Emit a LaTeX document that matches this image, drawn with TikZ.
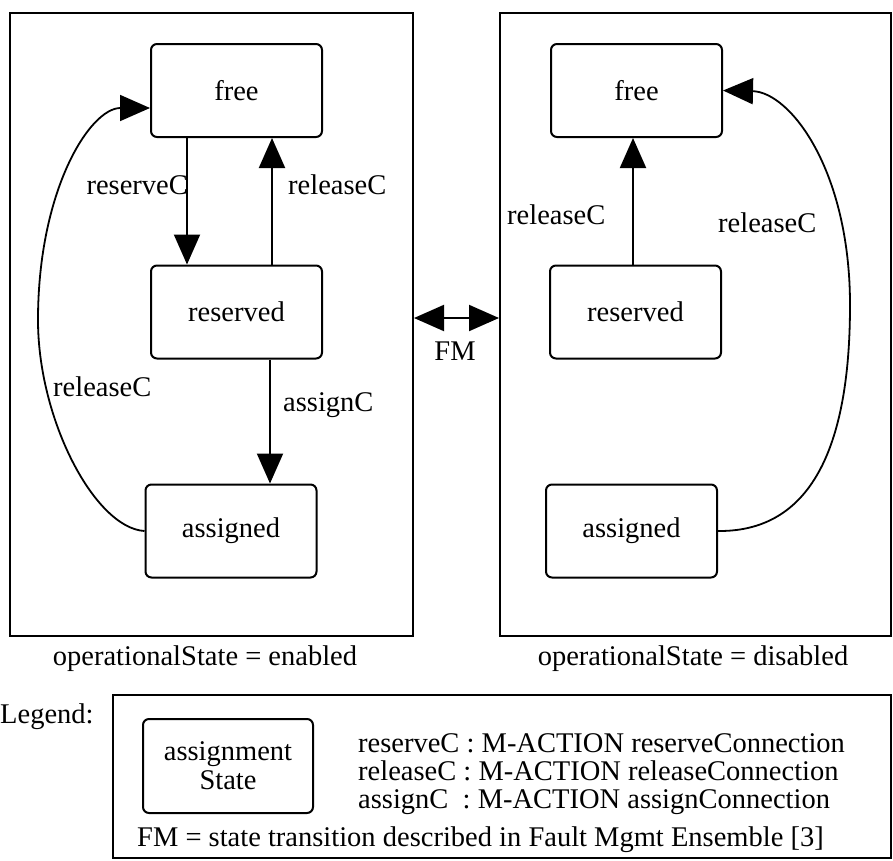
\documentclass[tikz,border=0pt]{standalone}
\usepackage{fontspec}
\setmainfont{Liberation Serif}
\usetikzlibrary{arrows.meta}
\begin{document}
\begin{tikzpicture}[x=1pt,y=-1pt,
  every node/.style={font=\fontsize{28.5}{29}\selectfont},
  panel/.style={draw,line width=2pt,inner sep=0pt},
  state/.style={draw,line width=2pt,rounded corners=6pt,minimum width=171pt,minimum height=93pt,inner sep=0pt},
  trans/.style={line width=2pt,-{Triangle[length=30pt,width=26pt]}},
  ctrans/.style={line width=1.8pt,-{Triangle[length=30pt,width=26pt]}},
  fm/.style={line width=2pt,{Triangle[length=30pt,width=26pt]}-{Triangle[length=30pt,width=26pt]}},
  lbl/.style={inner sep=0pt}]
\useasboundingbox (0,0) rectangle (893,860);

% panels
\node[panel,minimum width=403pt,minimum height=623pt] (P1) at (211.5,324.5) {};
\node[panel,minimum width=391pt,minimum height=623pt] (P2) at (695.5,324.5) {};

% left states
\node[state] (F1) at (236.5,90.5) {free};
\node[state] (R1) at (236.5,312) {reserved};
\node[state] (A1) at (231,531) {assigned};

% right states
\node[state] (F2) at (636.5,90.5) {free};
\node[state] (R2) at (635.5,312) {reserved};
\node[state] (A2) at (631.5,531) {assigned};

% left transitions
\draw[trans] ([xshift=-49.5pt]F1.south) -- ([xshift=-49.5pt]R1.north);
\draw[trans] ([xshift=35.5pt]R1.north) -- ([xshift=35.5pt]F1.south);
\draw[trans] ([xshift=33.5pt]R1.south) -- ([xshift=39pt]A1.north);
\coordinate (L1) at (38,320);
\draw[ctrans] (A1.west) .. controls (95,528) and (38,420) .. (L1)
  .. controls (38,190) and (90,108) .. ([yshift=-17.5pt]F1.west);

\node[lbl,anchor=east] (lrs) at (188,185) {reserveC};
\node[lbl,anchor=west] (lrl) at (288,185) {releaseC};
\node[lbl,anchor=west] (lrl2) at (53,387) {releaseC};
\node[lbl,anchor=west] (las) at (283,405) {assignC};

% right transitions
\draw[trans] ([xshift=-2.5pt]R2.north) -- ([xshift=-3.5pt]F2.south);
\coordinate (L2) at (850,305);
\draw[ctrans] (A2.east) .. controls (820,532) and (850,430) .. (L2)
  .. controls (850,170) and (790,92) .. (F2.east);
\node[lbl,anchor=west] (rrl) at (507,215) {releaseC};
\node[lbl,anchor=west] (rrl2) at (718,223) {releaseC};

% FM
\coordinate (fmy) at (455,318);
\draw[fm] (P1.east |- fmy) -- (P2.west |- fmy);
\node[lbl] (fmlab) at (455,351) {FM};

% captions
\node[lbl] (cap1) at (205,659) {operationalState = enabled};
\node[lbl] (cap2) at (693,659) {operationalState = disabled};

% legend
\node[lbl,anchor=west] (leg) at (0,717) {Legend:};
\node[panel,minimum width=778pt,minimum height=163pt] (LB) at (502,776.5) {};
\node[state,minimum width=170pt,minimum height=94pt,align=center] (LS) at (228,766) {assignment\\State};
\node[lbl,anchor=west,align=left,font=\fontsize{28.5}{28}\selectfont] (keys) at (358,774)
  {reserveC : M-ACTION reserveConnection\\releaseC : M-ACTION releaseConnection\\assignC\ \ : M-ACTION assignConnection};
\node[lbl,anchor=west] (k4) at (137,840) {FM = state transition described in Fault Mgmt Ensemble [3]};
\end{tikzpicture}
\end{document}
